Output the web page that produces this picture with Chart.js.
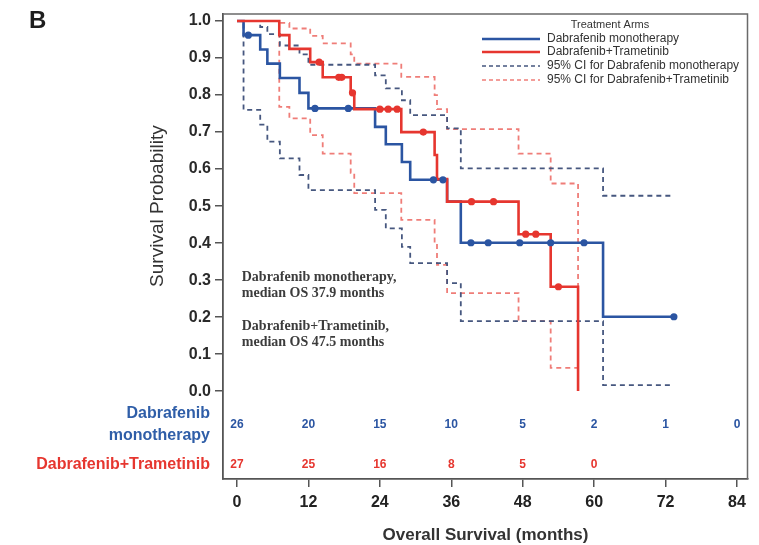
<!DOCTYPE html>
<html>
<head>
<meta charset="utf-8">
<script src="https://cdn.jsdelivr.net/npm/chart.js@4.4.1/dist/chart.umd.min.js"></script>
<style>
  html, body { margin: 0; padding: 0; background: #ffffff; }
  #wrap { width: 759px; height: 545px; }
</style>
</head>
<body>
<div id="wrap"><canvas id="c" width="759" height="545"></canvas></div>
<script>
// ---------------- DATA ----------------
// Kaplan-Meier step values (time in months, survival after the step)
const monoTimes = [0, 1.1, 3.9, 5.1, 7.2, 10.5, 12.0, 23.2, 25.0, 27.7, 29.1, 35.3, 37.6, 61.5, 73.4];
const monoSurv  = [1.0, 0.962, 0.923, 0.885, 0.846, 0.806, 0.764, 0.714, 0.667, 0.619, 0.571, 0.512, 0.401, 0.201, 0.201];
const monoCiUpper = [1.0, 1.0, 0.984, 0.965, 0.934, 0.91, 0.882, 0.853, 0.818, 0.786, 0.746, 0.71, 0.602, 0.528, 0.528];
const monoCiLower = [1.0, 0.76, 0.72, 0.674, 0.629, 0.584, 0.543, 0.49, 0.44, 0.39, 0.346, 0.292, 0.189, 0.016, 0.016];
const monoCiTimes = [0, 1.1, 3.9, 5.1, 7.2, 10.5, 12.0, 23.2, 25.0, 27.7, 29.1, 35.3, 37.6, 61.5, 73.0];
const monoCensor = [1.9, 13.1, 18.7, 33.0, 34.6, 39.3, 42.2, 47.5, 52.7, 58.3, 73.4];

const comboTimes = [0, 7.1, 8.8, 12.3, 14.4, 19.1, 19.7, 27.6, 33.2, 33.6, 35.3, 47.3, 52.7, 57.3];
const comboSurv  = [1.0, 0.962, 0.925, 0.889, 0.848, 0.806, 0.762, 0.700, 0.638, 0.573, 0.512, 0.424, 0.282, 0.0];
const comboCiUpper = [1.0, 0.995, 0.98, 0.96, 0.94, 0.91, 0.885, 0.849, 0.80, 0.762, 0.708, 0.642, 0.561, 0.063];
const comboCiLower = [1.0, 0.768, 0.737, 0.692, 0.642, 0.59, 0.535, 0.463, 0.40, 0.341, 0.265, 0.189, 0.063, 0.063];
const comboCensor = [13.8, 17.1, 17.6, 19.4, 24.0, 25.4, 26.9, 31.3, 39.4, 43.1, 48.5, 50.2, 54.0];

// Numbers at risk
const riskTimes = [0, 12, 24, 36, 48, 60, 72, 84];
const monoAtRisk = [26, 20, 15, 10, 5, 2, 1, 0];
const comboAtRisk = [27, 25, 16, 8, 5, 0];

// Axis ticks
const xTicks = [0, 12, 24, 36, 48, 60, 72, 84];
const yTicks = [0.0, 0.1, 0.2, 0.3, 0.4, 0.5, 0.6, 0.7, 0.8, 0.9, 1.0];

// Labels / text
const armMono = 'Dabrafenib monotherapy';
const armCombo = 'Dabrafenib+Trametinib';
const ciMono = '95% CI for Dabrafenib monotherapy';
const ciCombo = '95% CI for Dabrafenib+Trametinib';
const medianNotes = [
  ['Dabrafenib monotherapy,', 'median OS 37.9 months'],
  ['Dabrafenib+Trametinib,', 'median OS 47.5 months']
];

// ---------------- STYLE ----------------
const BLUE = '#2b55a2';
const RED = '#e6362f';
const BLUE_CI = '#46577f';
const RED_CI = '#ef7d78';
const SANS = '"Liberation Sans", Arial, Helvetica, sans-serif';
const SERIF = '"Liberation Serif", "Times New Roman", serif';

function pts(T, S) { return T.map((t, i) => ({ x: t, y: S[i] })); }
function stepAt(T, S, t) {
  let v = S[0];
  for (let i = 0; i < T.length; i++) { if (T[i] <= t) v = S[i]; }
  return v;
}

const datasets = [
  { label: 'monoCensor', data: monoCensor.map(t => ({ x: t, y: stepAt(monoTimes, monoSurv, t) })),
    showLine: false, pointRadius: 3.6, pointBackgroundColor: BLUE, pointBorderColor: BLUE, borderWidth: 0, order: 0 },
  { label: 'comboCensor', data: comboCensor.map(t => ({ x: t, y: stepAt(comboTimes, comboSurv, t) })),
    showLine: false, pointRadius: 3.6, pointBackgroundColor: RED, pointBorderColor: RED, borderWidth: 0, order: 0 },
  { label: armCombo, data: pts(comboTimes, comboSurv), stepped: true, borderColor: RED, borderWidth: 2.6,
    pointRadius: 0, fill: false, order: 1 },
  { label: armMono, data: pts(monoTimes, monoSurv), stepped: true, borderColor: BLUE, borderWidth: 2.6,
    pointRadius: 0, fill: false, order: 2 },
  { label: ciMono + ' upper', data: pts(monoCiTimes, monoCiUpper), stepped: true, borderColor: BLUE_CI, borderWidth: 1.8,
    borderDash: [5, 4], pointRadius: 0, fill: false, order: 3 },
  { label: ciMono + ' lower', data: pts(monoCiTimes, monoCiLower), stepped: true, borderColor: BLUE_CI, borderWidth: 1.8,
    borderDash: [5, 4], pointRadius: 0, fill: false, order: 3 },
  { label: ciCombo + ' upper', data: pts(comboTimes, comboCiUpper), stepped: true, borderColor: RED_CI, borderWidth: 1.8,
    borderDash: [5, 4], pointRadius: 0, fill: false, order: 4 },
  { label: ciCombo + ' lower', data: pts(comboTimes, comboCiLower), stepped: true, borderColor: RED_CI, borderWidth: 1.8,
    borderDash: [5, 4], pointRadius: 0, fill: false, order: 4 }
];

const decor = {
  id: 'decor',
  afterDraw(chart) {
    const ctx = chart.ctx;
    const a = chart.chartArea;
    const xs = chart.scales.x, ys = chart.scales.y;
    ctx.save();
    // frame top & right
    ctx.strokeStyle = '#6a6a6a';
    ctx.lineWidth = 1.5;
    ctx.beginPath();
    ctx.moveTo(a.left, a.top + 0.5);
    ctx.lineTo(a.right - 0.5, a.top + 0.5);
    ctx.lineTo(a.right - 0.5, a.bottom);
    ctx.stroke();

    // Panel letter
    ctx.fillStyle = '#1e1e1e';
    ctx.font = 'bold 24px ' + SANS;
    ctx.textAlign = 'left';
    ctx.textBaseline = 'middle';
    ctx.fillText('B', 29, 21);

    // Y title
    ctx.save();
    ctx.translate(158, (ys.getPixelForValue(0) + ys.getPixelForValue(1)) / 2);
    ctx.rotate(-Math.PI / 2);
    ctx.fillStyle = '#333333';
    ctx.font = '19px ' + SANS;
    ctx.textAlign = 'center';
    ctx.textBaseline = 'middle';
    ctx.fillText('Survival Probability', 0, 0);
    ctx.restore();

    // X title
    ctx.fillStyle = '#333333';
    ctx.font = 'bold 17px ' + SANS;
    ctx.textAlign = 'center';
    ctx.textBaseline = 'middle';
    ctx.fillText('Overall Survival (months)', (a.left + a.right) / 2, 535);

    // Median notes
    ctx.fillStyle = '#3c3c3c';
    ctx.font = 'bold 14px ' + SERIF;
    ctx.textAlign = 'left';
    ctx.textBaseline = 'middle';
    const nx = xs.getPixelForValue(0.8);
    ctx.fillText(medianNotes[0][0], nx, ys.getPixelForValue(0.306));
    ctx.fillText(medianNotes[0][1], nx, ys.getPixelForValue(0.264));
    ctx.fillText(medianNotes[1][0], nx, ys.getPixelForValue(0.175));
    ctx.fillText(medianNotes[1][1], nx, ys.getPixelForValue(0.133));

    // Risk table
    const yMono = ys.getPixelForValue(-0.091);
    const yCombo = ys.getPixelForValue(-0.198);
    ctx.font = 'bold 12px ' + SANS;
    ctx.textAlign = 'center';
    ctx.fillStyle = BLUE;
    monoAtRisk.forEach((n, i) => ctx.fillText(String(n), xs.getPixelForValue(riskTimes[i]), yMono));
    ctx.fillStyle = RED;
    comboAtRisk.forEach((n, i) => ctx.fillText(String(n), xs.getPixelForValue(riskTimes[i]), yCombo));
    ctx.font = 'bold 16px ' + SANS;
    ctx.textAlign = 'right';
    ctx.fillStyle = '#2f5ea8';
    ctx.fillText('Dabrafenib', 210, ys.getPixelForValue(-0.062));
    ctx.fillText('monotherapy', 210, ys.getPixelForValue(-0.119));
    ctx.fillStyle = RED;
    ctx.fillText(armCombo, 210, yCombo);

    // Legend
    ctx.fillStyle = '#333333';
    ctx.font = '11px ' + SANS;
    ctx.textAlign = 'center';
    ctx.fillText('Treatment Arms', 610, 25);
    const rows = [
      { t: armMono, c: BLUE, w: 2.6, d: [] },
      { t: armCombo, c: RED, w: 2.6, d: [] },
      { t: ciMono, c: BLUE_CI, w: 1.6, d: [4, 3] },
      { t: ciCombo, c: RED_CI, w: 1.6, d: [4, 3] }
    ];
    const rowY = [39, 52, 66, 80];
    rows.forEach((r, i) => {
      ctx.strokeStyle = r.c;
      ctx.lineWidth = r.w;
      ctx.setLineDash(r.d);
      ctx.beginPath();
      ctx.moveTo(482, rowY[i]);
      ctx.lineTo(540, rowY[i]);
      ctx.stroke();
      ctx.setLineDash([]);
      ctx.fillStyle = '#333333';
      ctx.font = '12px ' + SANS;
      ctx.textAlign = 'left';
      ctx.fillText(r.t, 547, rowY[i]);
    });
    ctx.restore();
  }
};

new Chart(document.getElementById('c'), {
  type: 'line',
  data: { datasets },
  options: {
    responsive: false,
    animation: false,
    devicePixelRatio: 1,
    layout: { padding: { left: 0, top: 13, right: 11, bottom: 0 } },
    plugins: { legend: { display: false }, tooltip: { enabled: false } },
    scales: {
      x: {
        type: 'linear',
        min: -2.352,
        max: 85.85,
        afterBuildTicks: s => { s.ticks = xTicks.map(v => ({ value: v })); },
        afterFit: s => { s.height = 66; },
        grid: { drawOnChartArea: false, drawTicks: true, tickLength: 8, color: '#555555', lineWidth: 1.5 },
        border: { display: true, color: '#555555', width: 1.8 },
        ticks: { color: '#222222', font: { family: SANS, size: 16, weight: 'bold' }, padding: 6,
                 maxRotation: 0, autoSkip: false, callback: v => String(v) }
      },
      y: {
        type: 'linear',
        min: -0.2375,
        max: 1.0202,
        afterBuildTicks: s => { s.ticks = yTicks.map(v => ({ value: v })); },
        afterFit: s => { s.width = 223; },
        grid: { drawOnChartArea: false, drawTicks: true, tickLength: 8, color: '#555555', lineWidth: 1.5 },
        border: { display: true, color: '#555555', width: 1.8 },
        ticks: { color: '#2a2a2a', font: { family: SANS, size: 16, weight: 'bold' }, padding: 4,
                 callback: v => Number(v).toFixed(1) }
      }
    }
  },
  plugins: [decor]
});
</script>
</body>
</html>
